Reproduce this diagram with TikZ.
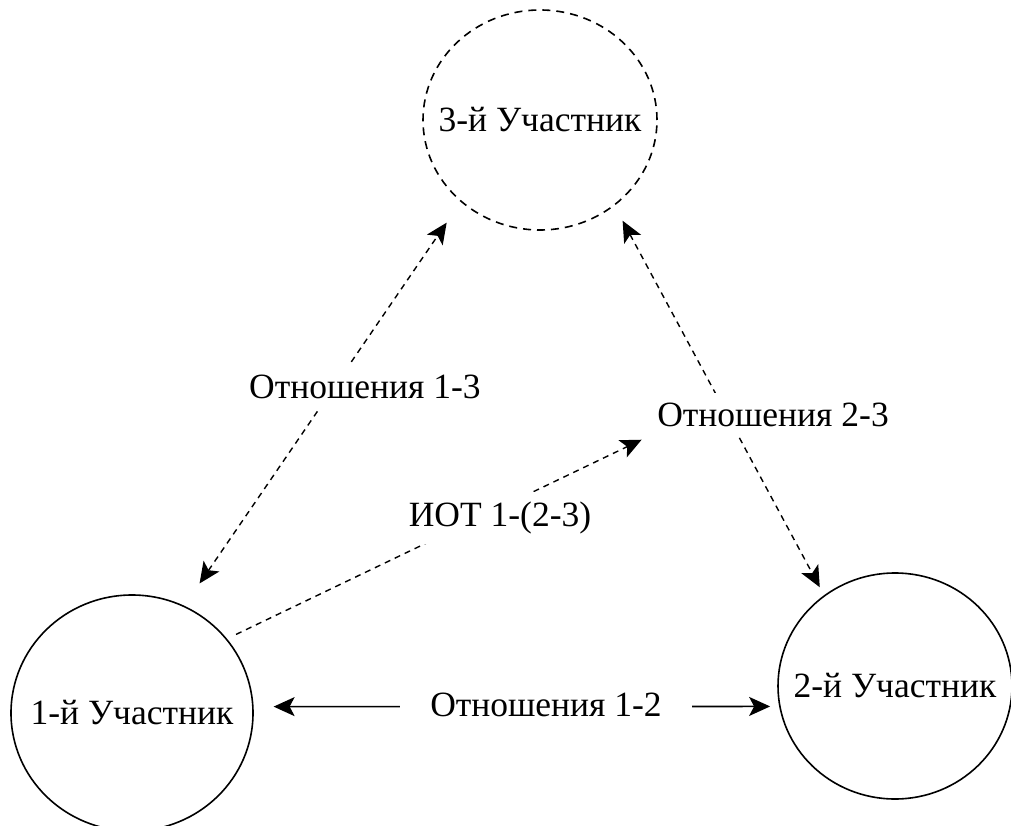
\documentclass[tikz,border=0pt]{standalone}
\usepackage{fontspec}
\setmainfont{Liberation Serif}
\usetikzlibrary{shapes.geometric,arrows.meta}
\begin{document}
\begin{tikzpicture}[x=1pt,y=-1pt,
  >={Stealth[length=21pt,width=19pt,inset=5pt]},
  txt/.style={font=\fontsize{35.5}{42}\selectfont},
  part/.style={ellipse, draw, line width=1.6pt, inner sep=0pt},
  partdash/.style={part, dash pattern=on 8pt off 6pt},
  rel/.style={txt, fill=white, inner sep=10pt},
  dashrel/.style={line width=1.4pt, dash pattern=on 6pt off 5pt},
  solidrel/.style={line width=1.6pt},
]
\useasboundingbox (0,0) rectangle (1011,826);

% participants
\node[partdash, minimum width=234pt, minimum height=220pt,
      label={[txt]center:3-й Участник}] (p3) at (540,120) {};
\node[part, minimum width=242pt, minimum height=236pt,
      label={[txt]center:1-й Участник}] (p1) at (132,713) {};
\node[part, minimum width=234pt, minimum height=226pt,
      label={[txt]center:2-й Участник}] (p2) at (895,686) {};

% relations
\draw[dashrel, <->, shorten <=27pt, shorten >=25pt] (p1.64) -- (p3.226);
\draw[dashrel, <->, shorten <=17pt, shorten >=9pt] (p3.311) -- (p2.128);
\draw[solidrel, <->, shorten <=20pt, shorten >=9pt] (p1.3) -- (p2.190);

% relation labels
\node[rel] (l13) at (365,387) {Отношения 1-3};
\node[rel] (l23) at (773,415) {Отношения 2-3};
\node[rel, inner xsep=30pt] (l12) at (546,705) {Отношения 1-2};

% IOT
\draw[dashrel, ->, shorten <=10pt, shorten >=6pt] (p1.38) -- (l23.south west);
\node[rel] (liot) at (500,518) {ИОТ 1-(2-3)};
\end{tikzpicture}
\end{document}
